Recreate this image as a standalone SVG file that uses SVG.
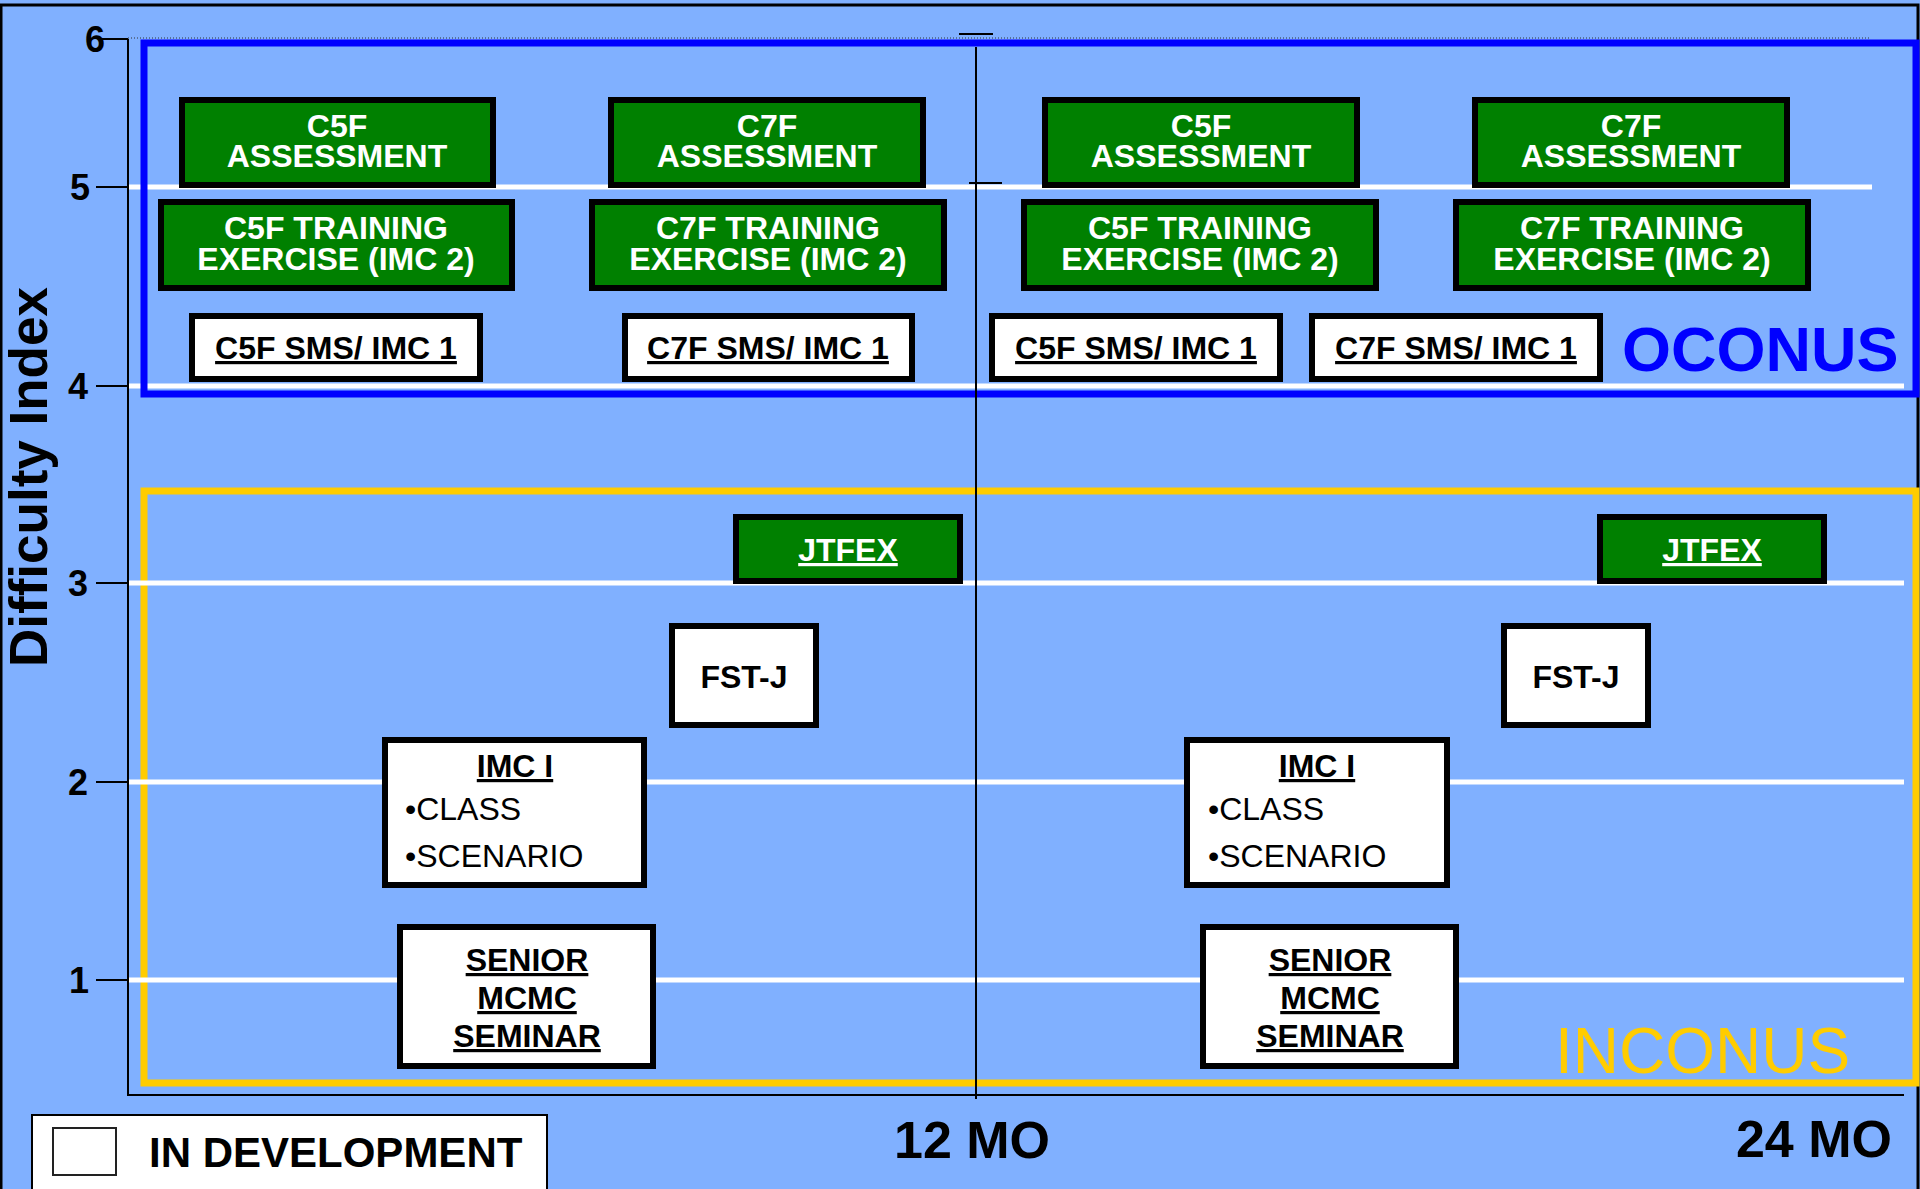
<svg xmlns="http://www.w3.org/2000/svg" width="1920" height="1189" viewBox="0 0 1920 1189">
<style>
text{font-family:"Liberation Sans",Arial,sans-serif;}
.g{fill:#008000;stroke:#000;stroke-width:6;}
.w{fill:#fff;stroke:#000;stroke-width:6;}
.gt{fill:#fff;font-weight:bold;font-size:32px;text-anchor:middle;}
.bt{fill:#000;font-weight:bold;font-size:32px;text-anchor:middle;}
.u{text-decoration:underline;}
.rt{fill:#000;font-size:32px;}
.tick{fill:#000;font-weight:bold;font-size:36px;text-anchor:middle;}
.grid{stroke:#fff;stroke-width:5;}
.ax{stroke:#000;stroke-width:2;}
</style>
<rect x="0" y="0" width="1920" height="1189" fill="#80B0FF"/>
<rect x="1" y="5" width="1917" height="1200" fill="none" stroke="#000" stroke-width="3"/>

<g id="regions">
<rect id="inconus-frame" x="144" y="491" width="1772" height="592" fill="none" stroke="#FFCC00" stroke-width="7"/>
</g>
<g id="gridlines">
<line class="grid" x1="128" y1="187" x2="1872" y2="187"/>
<line class="grid" x1="128" y1="386" x2="1904" y2="386"/>
<line class="grid" x1="128" y1="583" x2="1904" y2="583"/>
<line class="grid" x1="128" y1="782" x2="1904" y2="782"/>
<line class="grid" x1="128" y1="980" x2="1904" y2="980"/>
</g>
<rect id="oconus-frame" x="144" y="43" width="1772" height="351" fill="none" stroke="#0000FF" stroke-width="7"/>

<g id="connectors">
<line x1="128" y1="38" x2="1869" y2="38" stroke="#333" stroke-width="1" stroke-dasharray="1,2"/>
<line class="ax" x1="128" y1="39" x2="128" y2="1096"/>
<line class="ax" x1="127" y1="1095" x2="1904" y2="1095"/>
<line class="ax" x1="976" y1="47" x2="976" y2="1099"/>
<line class="ax" x1="959" y1="34" x2="993" y2="34"/>
<line class="ax" x1="969" y1="183" x2="1002" y2="183"/>
<line class="ax" x1="101" y1="39" x2="128" y2="39"/>
<line class="ax" x1="96" y1="187" x2="128" y2="187"/>
<line class="ax" x1="96" y1="386" x2="128" y2="386"/>
<line class="ax" x1="96" y1="583" x2="128" y2="583"/>
<line class="ax" x1="96" y1="782" x2="128" y2="782"/>
<line class="ax" x1="96" y1="980" x2="128" y2="980"/>
</g>

<g id="axis-labels">
<text class="tick" x="95" y="52">6</text>
<text class="tick" x="80" y="200">5</text>
<text class="tick" x="78" y="399">4</text>
<text class="tick" x="78" y="596">3</text>
<text class="tick" x="78" y="795">2</text>
<text class="tick" x="79" y="993">1</text>
<text x="0" y="0" transform="translate(47,477) rotate(-90)" font-size="53" font-weight="bold" text-anchor="middle" fill="#000">Difficulty Index</text>
<text x="972" y="1158" font-size="52" font-weight="bold" text-anchor="middle" fill="#000">12 MO</text>
<text x="1892" y="1157" font-size="52" font-weight="bold" text-anchor="end" fill="#000">24 MO</text>
<text x="1622" y="371" font-size="63" font-weight="bold" fill="#0000FF">OCONUS</text>
<text x="1555" y="1073" font-size="64" fill="#FFCC00">INCONUS</text>
</g>

<g id="c5f-assessment-1"><rect class="g" x="182" y="100" width="311" height="85"/><text class="gt" x="337" y="137">C5F<tspan x="337" y="167">ASSESSMENT</tspan></text></g>
<g id="c7f-assessment-1"><rect class="g" x="611" y="100" width="312" height="85"/><text class="gt" x="767" y="137">C7F<tspan x="767" y="167">ASSESSMENT</tspan></text></g>
<g id="c5f-assessment-2"><rect class="g" x="1045" y="100" width="312" height="85"/><text class="gt" x="1201" y="137">C5F<tspan x="1201" y="167">ASSESSMENT</tspan></text></g>
<g id="c7f-assessment-2"><rect class="g" x="1475" y="100" width="312" height="85"/><text class="gt" x="1631" y="137">C7F<tspan x="1631" y="167">ASSESSMENT</tspan></text></g>

<g id="c5f-training-1"><rect class="g" x="161" y="202" width="351" height="86"/><text class="gt" x="336" y="239">C5F TRAINING<tspan x="336" y="270">EXERCISE (IMC 2)</tspan></text></g>
<g id="c7f-training-1"><rect class="g" x="592" y="202" width="352" height="86"/><text class="gt" x="768" y="239">C7F TRAINING<tspan x="768" y="270">EXERCISE (IMC 2)</tspan></text></g>
<g id="c5f-training-2"><rect class="g" x="1024" y="202" width="352" height="86"/><text class="gt" x="1200" y="239">C5F TRAINING<tspan x="1200" y="270">EXERCISE (IMC 2)</tspan></text></g>
<g id="c7f-training-2"><rect class="g" x="1456" y="202" width="352" height="86"/><text class="gt" x="1632" y="239">C7F TRAINING<tspan x="1632" y="270">EXERCISE (IMC 2)</tspan></text></g>

<g id="c5f-sms-1"><rect class="w" x="192" y="316" width="288" height="63"/><text class="bt u" x="336" y="359">C5F SMS/ IMC 1</text></g>
<g id="c7f-sms-1"><rect class="w" x="625" y="316" width="287" height="63"/><text class="bt u" x="768" y="359">C7F SMS/ IMC 1</text></g>
<g id="c5f-sms-2"><rect class="w" x="992" y="316" width="288" height="63"/><text class="bt u" x="1136" y="359">C5F SMS/ IMC 1</text></g>
<g id="c7f-sms-2"><rect class="w" x="1312" y="316" width="288" height="63"/><text class="bt u" x="1456" y="359">C7F SMS/ IMC 1</text></g>

<g id="jtfex-1"><rect class="g" x="736" y="517" width="224" height="64"/><text class="gt u" x="848" y="561">JTFEX</text></g>
<g id="jtfex-2"><rect class="g" x="1600" y="517" width="224" height="64"/><text class="gt u" x="1712" y="561">JTFEX</text></g>

<g id="fstj-1"><rect class="w" x="672" y="626" width="144" height="99"/><text class="bt" x="744" y="688">FST-J</text></g>
<g id="fstj-2"><rect class="w" x="1504" y="626" width="144" height="99"/><text class="bt" x="1576" y="688">FST-J</text></g>

<g id="imc1-1"><rect class="w" x="385" y="740" width="259" height="145"/><text class="bt u" x="515" y="777">IMC I</text><text class="rt" x="405" y="820">•CLASS<tspan x="405" y="867">•SCENARIO</tspan></text></g>
<g id="imc1-2"><rect class="w" x="1187" y="740" width="260" height="145"/><text class="bt u" x="1317" y="777">IMC I</text><text class="rt" x="1208" y="820">•CLASS<tspan x="1208" y="867">•SCENARIO</tspan></text></g>

<g id="senior-1"><rect class="w" x="400" y="927" width="253" height="139"/><text class="bt u" x="527" y="971">SENIOR<tspan x="527" y="1009">MCMC</tspan><tspan x="527" y="1047">SEMINAR</tspan></text></g>
<g id="senior-2"><rect class="w" x="1203" y="927" width="253" height="139"/><text class="bt u" x="1330" y="971">SENIOR<tspan x="1330" y="1009">MCMC</tspan><tspan x="1330" y="1047">SEMINAR</tspan></text></g>

<g id="legend">
<rect x="32" y="1115" width="515" height="80" fill="#fff" stroke="#000" stroke-width="2"/>
<rect x="53" y="1128" width="63" height="47" fill="#fff" stroke="#222" stroke-width="2"/>
<text x="149" y="1167" font-size="42" font-weight="bold" fill="#000">IN DEVELOPMENT</text>
</g>
</svg>
